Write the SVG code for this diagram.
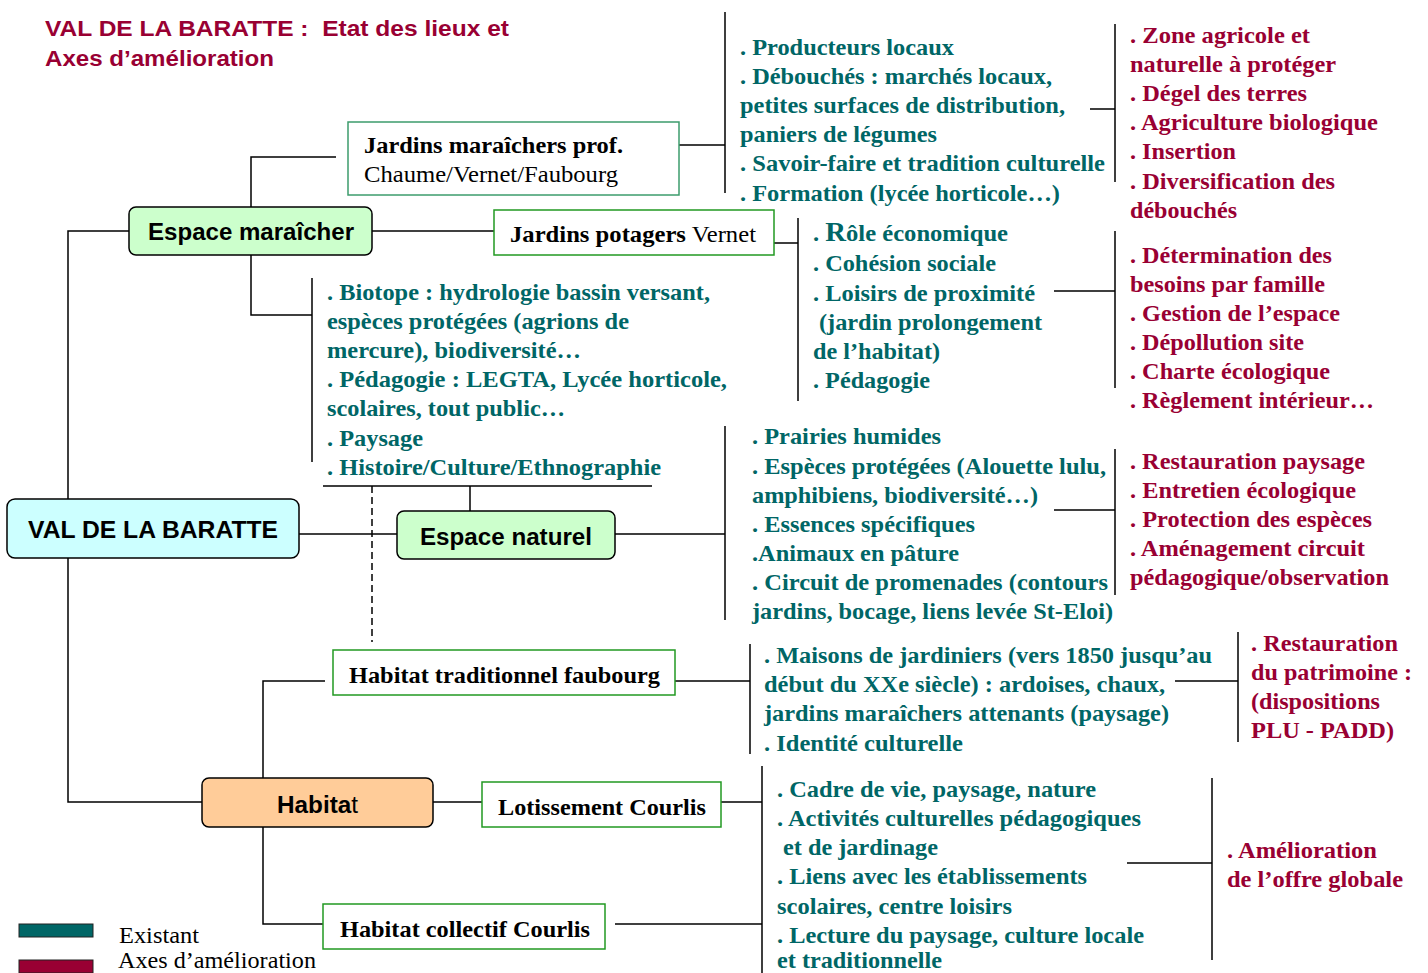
<svg xmlns="http://www.w3.org/2000/svg" width="1428" height="973" viewBox="0 0 1428 973">
<style>
text{font-family:"Liberation Serif","Times New Roman",serif;font-size:23px;font-weight:bold}
.t{fill:#006666}
.r{fill:#990033}
.t text,.r text{font-size:24px}
.k{fill:#000}
.n{font-weight:normal}
.s{font-family:"Liberation Sans",Arial,sans-serif;font-weight:bold;fill:#000}
.ttl{font-family:"Liberation Sans",Arial,sans-serif;font-weight:bold;fill:#990033;font-size:22px}
.box{fill:#fff;stroke:#229922;stroke-width:1.5}
.rb{stroke:#000;stroke-width:1.5}
.ln{stroke:#000;stroke-width:1.5;fill:none}
</style>
<rect width="1428" height="973" fill="#fff"/>
<g id="title">
<text class="ttl" x="45" y="36" textLength="464" lengthAdjust="spacingAndGlyphs" xml:space="preserve">VAL DE LA BARATTE :  Etat des lieux et</text>
<text class="ttl" x="45" y="66" textLength="229" lengthAdjust="spacingAndGlyphs">Axes d’amélioration</text>
</g>
<g id="connectors">
<path class="ln" d="M129,231H68V499M68,558V802H202"/>
<path class="ln" d="M299,534H397"/>
<path class="ln" d="M251,207V157H336"/>
<path class="ln" d="M372,231H494"/>
<path class="ln" d="M251,255V315H312M312,278V462"/>
<path class="ln" d="M470,511V486M323,486H652"/>
<path class="ln" d="M372,486V642" stroke-dasharray="7,4"/>
<path class="ln" d="M615,534H725M725,426V620"/>
<path class="ln" d="M679,145H725M725,12V193"/>
<path class="ln" d="M1090,109H1115M1115,24V182"/>
<path class="ln" d="M774,243H798M798,218V401"/>
<path class="ln" d="M1054,291H1115M1115,231V388"/>
<path class="ln" d="M1054,510H1115M1115,449V595"/>
<path class="ln" d="M675,681H750M750,644V754"/>
<path class="ln" d="M1175,681H1238M1238,632V742"/>
<path class="ln" d="M263,778V681H325"/>
<path class="ln" d="M433,802H482"/>
<path class="ln" d="M721,802H762M762,766V973"/>
<path class="ln" d="M263,827V924H323"/>
<path class="ln" d="M615,924H762"/>
<path class="ln" d="M1127,863H1212M1212,778V960"/>
</g>
<g id="val-de-la-baratte">
<rect class="rb" x="7" y="499" width="292" height="59" rx="8" fill="#ccffff"/>
<text class="s" x="153" y="538" text-anchor="middle" font-size="24" textLength="250" lengthAdjust="spacingAndGlyphs">VAL DE LA BARATTE</text>
</g>
<g id="espace-maraicher">
<rect class="rb" x="129" y="207" width="243" height="48" rx="7" fill="#ccffcc"/>
<text class="s" x="251" y="240" text-anchor="middle" font-size="23" textLength="206" lengthAdjust="spacingAndGlyphs">Espace maraîcher</text>
</g>
<g id="espace-naturel">
<rect class="rb" x="397" y="511" width="218" height="48" rx="7" fill="#ccffcc"/>
<text class="s" x="506" y="545" text-anchor="middle" font-size="23" textLength="172" lengthAdjust="spacingAndGlyphs">Espace naturel</text>
</g>
<g id="habitat">
<rect class="rb" x="202" y="778" width="231" height="49" rx="7" fill="#ffcc99"/>
<text class="s" x="277" y="813" font-size="22" textLength="81" lengthAdjust="spacingAndGlyphs">Habita<tspan font-weight="normal">t</tspan></text>
</g>
<g id="jardins-maraichers-prof">
<rect class="box" x="348" y="122" width="331" height="73" style="stroke:#3c9c6c"/>
<text class="k" x="364" y="153" textLength="259" lengthAdjust="spacingAndGlyphs">Jardins maraîchers prof.</text>
<text class="k n" x="364" y="182" textLength="254" lengthAdjust="spacingAndGlyphs">Chaume/Vernet/Faubourg</text>
</g>
<g id="jardins-potagers">
<rect class="box" x="494" y="210" width="280" height="45"/>
<text class="k" x="510" y="242" textLength="246" lengthAdjust="spacingAndGlyphs">Jardins potagers<tspan class="n"> Vernet</tspan></text>
</g>
<g id="habitat-traditionnel">
<rect class="box" x="333" y="650" width="342" height="45"/>
<text class="k" x="349" y="683" textLength="311" lengthAdjust="spacingAndGlyphs">Habitat traditionnel faubourg</text>
</g>
<g id="lotissement-courlis">
<rect class="box" x="482" y="782" width="239" height="45"/>
<text class="k" x="498" y="815" textLength="208" lengthAdjust="spacingAndGlyphs">Lotissement Courlis</text>
</g>
<g id="habitat-collectif">
<rect class="box" x="323" y="904" width="282" height="45"/>
<text class="k" x="340" y="937" textLength="250" lengthAdjust="spacingAndGlyphs">Habitat collectif Courlis</text>
</g>
<g id="maraicher-existant" class="t">
<text x="740" y="55" textLength="214" lengthAdjust="spacingAndGlyphs">. Producteurs locaux</text>
<text x="740" y="84" textLength="312" lengthAdjust="spacingAndGlyphs">. Débouchés : marchés locaux,</text>
<text x="740" y="113" textLength="325" lengthAdjust="spacingAndGlyphs">petites surfaces de distribution,</text>
<text x="740" y="142" textLength="197" lengthAdjust="spacingAndGlyphs">paniers de légumes</text>
<text x="740" y="171" textLength="365" lengthAdjust="spacingAndGlyphs">. Savoir-faire et tradition culturelle</text>
<text x="740" y="201" textLength="320" lengthAdjust="spacingAndGlyphs">. Formation (lycée horticole…)</text>
</g>
<g id="maraicher-axes" class="r">
<text x="1130" y="43" textLength="180" lengthAdjust="spacingAndGlyphs">. Zone agricole et</text>
<text x="1130" y="72" textLength="206" lengthAdjust="spacingAndGlyphs">naturelle à protéger</text>
<text x="1130" y="101" textLength="177" lengthAdjust="spacingAndGlyphs">. Dégel des terres</text>
<text x="1130" y="130" textLength="248" lengthAdjust="spacingAndGlyphs">. Agriculture biologique</text>
<text x="1130" y="159" textLength="106" lengthAdjust="spacingAndGlyphs">. Insertion</text>
<text x="1130" y="189" textLength="205" lengthAdjust="spacingAndGlyphs">. Diversification des</text>
<text x="1130" y="218" textLength="107" lengthAdjust="spacingAndGlyphs">débouchés</text>
</g>
<g id="potagers-existant" class="t">
<text x="813" y="241" textLength="195" lengthAdjust="spacingAndGlyphs">. <tspan font-size="28">R</tspan>ôle économique</text>
<text x="813" y="271" textLength="183" lengthAdjust="spacingAndGlyphs">. Cohésion sociale</text>
<text x="813" y="301" textLength="222" lengthAdjust="spacingAndGlyphs">. Loisirs de proximité</text>
<text x="819" y="330" textLength="223" lengthAdjust="spacingAndGlyphs">(jardin prolongement</text>
<text x="813" y="359" textLength="127" lengthAdjust="spacingAndGlyphs">de l’habitat)</text>
<text x="813" y="388" textLength="117" lengthAdjust="spacingAndGlyphs">. Pédagogie</text>
</g>
<g id="potagers-axes" class="r">
<text x="1130" y="263" textLength="202" lengthAdjust="spacingAndGlyphs">. Détermination des</text>
<text x="1130" y="292" textLength="195" lengthAdjust="spacingAndGlyphs">besoins par famille</text>
<text x="1130" y="321" textLength="210" lengthAdjust="spacingAndGlyphs">. Gestion de l’espace</text>
<text x="1130" y="350" textLength="174" lengthAdjust="spacingAndGlyphs">. Dépollution site</text>
<text x="1130" y="379" textLength="200" lengthAdjust="spacingAndGlyphs">. Charte écologique</text>
<text x="1130" y="408" textLength="244" lengthAdjust="spacingAndGlyphs">. Règlement intérieur…</text>
</g>
<g id="maraicher-biotope" class="t">
<text x="327" y="300" textLength="383" lengthAdjust="spacingAndGlyphs" style="font-size:23px">. Biotope : hydrologie bassin versant,</text>
<text x="327" y="329" textLength="302" lengthAdjust="spacingAndGlyphs" style="font-size:23px">espèces protégées (agrions de</text>
<text x="327" y="358" textLength="254" lengthAdjust="spacingAndGlyphs" style="font-size:23px">mercure), biodiversité…</text>
<text x="327" y="387" textLength="400" lengthAdjust="spacingAndGlyphs" style="font-size:23px">. Pédagogie : LEGTA, Lycée horticole,</text>
<text x="327" y="416" textLength="238" lengthAdjust="spacingAndGlyphs" style="font-size:23px">scolaires, tout public…</text>
<text x="327" y="446" textLength="96" lengthAdjust="spacingAndGlyphs">. Paysage</text>
<text x="327" y="475" textLength="334" lengthAdjust="spacingAndGlyphs">. Histoire/Culture/Ethnographie</text>
</g>
<g id="naturel-existant" class="t">
<text x="752" y="444" textLength="189" lengthAdjust="spacingAndGlyphs">. Prairies humides</text>
<text x="752" y="474" textLength="354" lengthAdjust="spacingAndGlyphs">. Espèces protégées (Alouette lulu,</text>
<text x="752" y="503" textLength="286" lengthAdjust="spacingAndGlyphs">amphibiens, biodiversité…)</text>
<text x="752" y="532" textLength="223" lengthAdjust="spacingAndGlyphs">. Essences spécifiques</text>
<text x="752" y="561" textLength="207" lengthAdjust="spacingAndGlyphs">.Animaux en pâture</text>
<text x="752" y="590" textLength="356" lengthAdjust="spacingAndGlyphs">. Circuit de promenades (contours</text>
<text x="752" y="619" textLength="361" lengthAdjust="spacingAndGlyphs">jardins, bocage, liens levée St-Eloi)</text>
</g>
<g id="naturel-axes" class="r">
<text x="1130" y="469" textLength="235" lengthAdjust="spacingAndGlyphs">. Restauration paysage</text>
<text x="1130" y="498" textLength="226" lengthAdjust="spacingAndGlyphs">. Entretien écologique</text>
<text x="1130" y="527" textLength="242" lengthAdjust="spacingAndGlyphs">. Protection des espèces</text>
<text x="1130" y="556" textLength="235" lengthAdjust="spacingAndGlyphs">. Aménagement circuit</text>
<text x="1130" y="585" textLength="259" lengthAdjust="spacingAndGlyphs">pédagogique/observation</text>
</g>
<g id="traditionnel-existant" class="t">
<text x="764" y="663" textLength="448" lengthAdjust="spacingAndGlyphs">. Maisons de jardiniers (vers 1850 jusqu’au</text>
<text x="764" y="692" textLength="401" lengthAdjust="spacingAndGlyphs">début du XXe siècle) : ardoises, chaux,</text>
<text x="764" y="721" textLength="405" lengthAdjust="spacingAndGlyphs">jardins maraîchers attenants (paysage)</text>
<text x="764" y="751" textLength="199" lengthAdjust="spacingAndGlyphs">. Identité culturelle</text>
</g>
<g id="traditionnel-axes" class="r">
<text x="1251" y="651" textLength="147" lengthAdjust="spacingAndGlyphs">. Restauration</text>
<text x="1251" y="680" textLength="161" lengthAdjust="spacingAndGlyphs">du patrimoine :</text>
<text x="1251" y="709" textLength="129" lengthAdjust="spacingAndGlyphs">(dispositions</text>
<text x="1251" y="738" textLength="143" lengthAdjust="spacingAndGlyphs">PLU - PADD)</text>
</g>
<g id="courlis-existant" class="t">
<text x="777" y="797" textLength="319" lengthAdjust="spacingAndGlyphs">. Cadre de vie, paysage, nature</text>
<text x="777" y="826" textLength="364" lengthAdjust="spacingAndGlyphs">. Activités culturelles pédagogiques</text>
<text x="783" y="855" textLength="155" lengthAdjust="spacingAndGlyphs">et de jardinage</text>
<text x="777" y="884" textLength="310" lengthAdjust="spacingAndGlyphs">. Liens avec les établissements</text>
<text x="777" y="914" textLength="235" lengthAdjust="spacingAndGlyphs">scolaires, centre loisirs</text>
<text x="777" y="943" textLength="367" lengthAdjust="spacingAndGlyphs">. Lecture du paysage, culture locale</text>
<text x="777" y="968" textLength="165" lengthAdjust="spacingAndGlyphs">et traditionnelle</text>
</g>
<g id="courlis-axes" class="r">
<text x="1227" y="858" textLength="150" lengthAdjust="spacingAndGlyphs">. Amélioration</text>
<text x="1227" y="887" textLength="176" lengthAdjust="spacingAndGlyphs">de l’offre globale</text>
</g>
<g id="legend">
<rect x="19" y="924" width="74" height="13" fill="#006666" stroke="#222" stroke-width="1"/>
<text class="k n" x="119" y="943" textLength="80" lengthAdjust="spacingAndGlyphs">Existant</text>
<rect x="19" y="960" width="74" height="13" fill="#990033" stroke="#222" stroke-width="1"/>
<text class="k n" x="118" y="968" textLength="198" lengthAdjust="spacingAndGlyphs">Axes d’amélioration</text>
</g>
</svg>
